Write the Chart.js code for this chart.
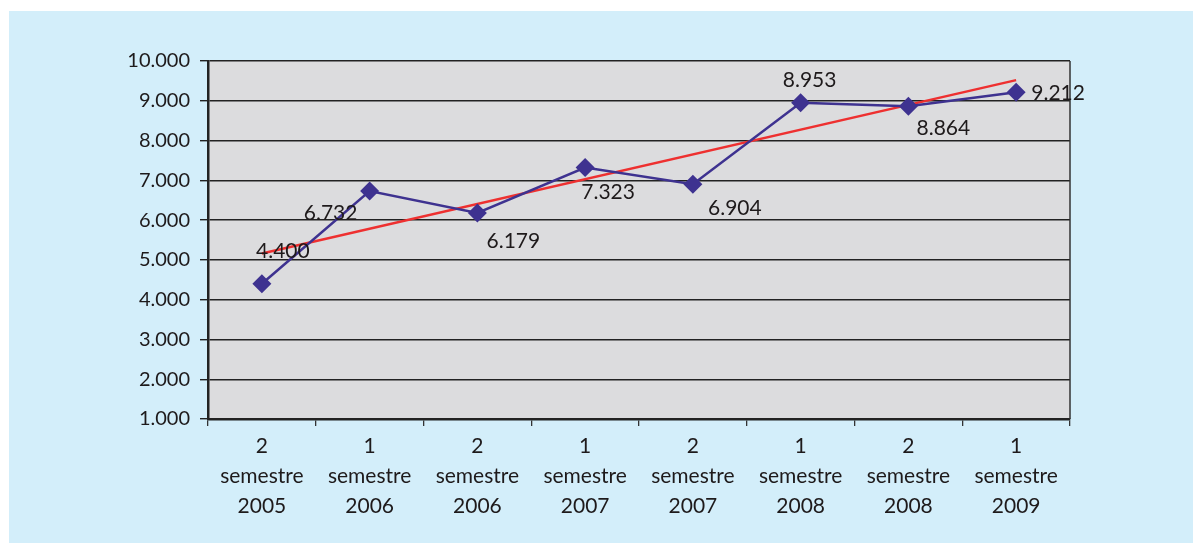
<!DOCTYPE html>
<html>
<head>
<meta charset="utf-8">
<script src="https://cdn.jsdelivr.net/npm/chart.js@4"></script>
<style>
    html, body { margin: 0; padding: 0; background: #ffffff; }
    #box {
        position: absolute;
        left: 9px;
        top: 11px;
        width: 1184px;
        height: 532px;
        background: #d3eefa;
    }
</style>
</head>
<body>
<div id="box"><canvas id="semChart" width="1184" height="532"></canvas></div>
<script>
// Data
const semesters = ['2', '1', '2', '1', '2', '1', '2', '1'];
const years = ['2005', '2006', '2006', '2007', '2007', '2008', '2008', '2009'];
const values = [4400, 6732, 6179, 7323, 6904, 8953, 8864, 9212];
// trend line: only the two ends are drawn, the rest is spanned
const trend = [5160, null, null, null, null, null, null, 9520];
const yTicks = [1000, 2000, 3000, 4000, 5000, 6000, 7000, 8000, 9000, 10000];

const labels = semesters.map((s, i) => [s, 'semestre', years[i]]);

// thousands with a dot, like the original
function fmt(v) {
    return String(v).replace(/\B(?=(\d{3})+(?!\d))/g, '.');
}

// where each value label sits relative to its point (px)
const labelOffsets = [
    [21, -33], [-39, 22], [36, 28], [23, 25],
    [42, 24], [9, -22], [35, 22], [42, 1]
];

const plotBackground = {
    id: 'plotBackground',
    beforeDraw(chart) {
        const a = chart.chartArea;
        const ctx = chart.ctx;
        ctx.save();
        ctx.fillStyle = '#dcdcde';
        ctx.fillRect(a.left, a.top, a.right - a.left, a.bottom - a.top);
        ctx.restore();
    },
    beforeDatasetsDraw(chart) {
        const a = chart.chartArea;
        const ctx = chart.ctx;
        ctx.save();
        ctx.strokeStyle = '#333333';
        ctx.lineWidth = 1.5;
        ctx.beginPath();
        ctx.moveTo(a.right, a.top);
        ctx.lineTo(a.right, a.bottom);
        ctx.stroke();
        ctx.restore();
    }
};

const valueLabels = {
    id: 'valueLabels',
    afterDatasetsDraw(chart) {
        const meta = chart.getDatasetMeta(0);
        const ctx = chart.ctx;
        ctx.save();
        ctx.font = '21px Lato';
        ctx.fillStyle = '#1e1a1b';
        ctx.textAlign = 'center';
        ctx.textBaseline = 'middle';
        meta.data.forEach((pt, i) => {
            const off = labelOffsets[i];
            ctx.fillText(fmt(values[i]), pt.x + off[0], pt.y + off[1]);
        });
        ctx.restore();
    }
};

function initializeChart() {
    const ctx = document.getElementById('semChart').getContext('2d');
    new Chart(ctx, {
        type: 'line',
        data: {
            labels: labels,
            datasets: [
                {
                    label: 'Valori',
                    data: values,
                    borderColor: '#3e3290',
                    backgroundColor: '#3e3290',
                    borderWidth: 2.5,
                    pointStyle: 'rectRot',
                    pointRadius: 9.5,
                    pointHoverRadius: 9.5,
                    pointBorderWidth: 0,
                    tension: 0,
                    fill: false,
                    order: 1
                },
                {
                    label: 'Tendenza',
                    data: trend,
                    borderColor: '#ee3030',
                    borderWidth: 2.5,
                    pointRadius: 0,
                    spanGaps: true,
                    fill: false,
                    order: 2
                }
            ]
        },
        options: {
            responsive: false,
            animation: false,
            layout: {
                padding: { top: 50, right: 123, bottom: 0, left: 0 }
            },
            plugins: {
                legend: { display: false },
                tooltip: { enabled: false }
            },
            scales: {
                x: {
                    offset: true,
                    afterFit(scale) { scale.height = 124; },
                    grid: {
                        offset: true,
                        drawOnChartArea: false,
                        drawTicks: true,
                        tickLength: 7,
                        color: '#333333',
                        lineWidth: 1.3
                    },
                    border: { color: '#222222', width: 2.5 },
                    ticks: {
                        color: '#1e1a1b',
                        font: { family: 'Lato', size: 21, lineHeight: 1.43 },
                        padding: 5,
                        maxRotation: 0,
                        autoSkip: false
                    }
                },
                y: {
                    min: 1000,
                    max: 10000,
                    afterFit(scale) { scale.width = 199; },
                    afterBuildTicks(scale) {
                        scale.ticks = yTicks.map(v => ({ value: v }));
                    },
                    grid: {
                        color: '#222222',
                        lineWidth: 1.4,
                        tickLength: 8
                    },
                    border: { color: '#222222', width: 2.5 },
                    ticks: {
                        color: '#1e1a1b',
                        font: { family: 'Lato', size: 20 },
                        padding: 10,
                        callback: v => fmt(v)
                    }
                }
            }
        },
        plugins: [plotBackground, valueLabels]
    });
}

window.onload = initializeChart;
</script>
</body>
</html>
